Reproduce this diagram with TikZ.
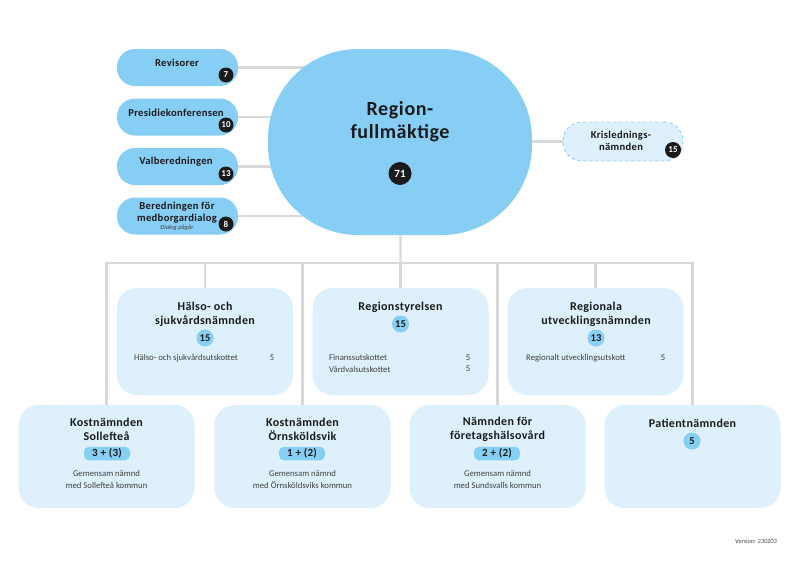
\documentclass[tikz,border=0pt]{standalone}
\usepackage{fontspec}
\setmainfont{Carlito}
\newfontfamily\tfont[LetterSpace=3]{Carlito}
\definecolor{blueA}{HTML}{87CEF5}
\definecolor{blueB}{HTML}{DDF0FC}
\definecolor{lineC}{HTML}{D9D9D9}
\definecolor{badgeC}{HTML}{1A1A1A}
\definecolor{txtC}{HTML}{1A1A1A}
\definecolor{smallC}{HTML}{404040}
\pgfdeclarelayer{bg}
\pgfsetlayers{bg,main}
\begin{document}
\begin{tikzpicture}[x=1pt,y=-1pt,
 conn/.style={draw=lineC, line width=2.2pt},
 pill/.style={rectangle, rounded corners=18pt, fill=blueA, minimum width=121pt, minimum height=37pt, inner sep=0pt},
 bigbox/.style={rectangle, rounded corners=90pt, fill=blueA, minimum width=264pt, minimum height=186pt, inner sep=0pt},
 krisbox/.style={rectangle, rounded corners=19pt, fill=blueB, draw=blueA, dashed, line width=0.9pt, minimum width=120pt, minimum height=39pt, inner sep=0pt},
 lbox/.style={rectangle, rounded corners=20pt, fill=blueB, minimum width=176pt, inner sep=0pt},
 ptitle/.style={font=\tfont\bfseries\fontsize{10.6}{11.5}\selectfont, align=center, text=txtC, inner sep=0pt},
 title/.style={font=\tfont\bfseries\fontsize{12}{13.5}\selectfont, align=center, text=txtC, inner sep=0pt},
 bigtitle/.style={font=\tfont\bfseries\fontsize{20}{23}\selectfont, align=center, text=txtC, inner sep=0pt},
 small/.style={font=\fontsize{8.7}{11.2}\selectfont, text=smallC, inner sep=0pt, align=center},
 tiny/.style={font=\itshape\fontsize{6.3}{7}\selectfont, text=smallC, inner sep=0pt},
 dbadge/.style={circle, fill=badgeC, text=white, font=\bfseries\fontsize{9}{10}\selectfont, minimum size=15pt, inner sep=0pt},
 lbadge/.style={circle, fill=blueA, text=txtC, font=\bfseries\fontsize{10.5}{11}\selectfont, minimum size=17pt, inner sep=0pt},
 tag/.style={rectangle, rounded corners=5pt, fill=blueA, text=txtC, font=\tfont\bfseries\fontsize{11}{12}\selectfont, minimum width=46pt, minimum height=13.5pt, inner sep=0pt}
]
\useasboundingbox (0,0) rectangle (800,565);

% boxes
\path
 (177.5,67.5) node[pill] (rev) {}
 (177.5,117) node[pill] (pres) {}
 (177.5,166.5) node[pill] (valb) {}
 (177.5,216) node[pill] (bered) {}
 (400,142) node[bigbox] (big) {}
 (623,141.5) node[krisbox] (kris) {}
 (205,341.5) node[lbox, minimum height=107pt] (hs) {}
 (400.5,341.5) node[lbox, minimum height=107pt] (rs) {}
 (595.5,341.5) node[lbox, minimum height=107pt] (ru) {}
 (106.5,456.5) node[lbox, minimum height=103pt] (k1) {}
 (302.5,456.5) node[lbox, minimum height=103pt] (k2) {}
 (497.5,456.5) node[lbox, minimum height=103pt] (nf) {}
 (692.5,456.5) node[lbox, minimum height=103pt] (pat) {};

% connectors behind the boxes
\coordinate (bus) at (400.5,263);
\begin{pgfonlayer}{bg}
\draw[conn] (rev.east) -- (rev.east -| big.center);
\draw[conn] (pres.east) -- (pres.east -| big.center);
\draw[conn] (valb.east) -- (valb.east -| big.center);
\draw[conn] (bered.east) -- (bered.east -| big.center);
\draw[conn] (big.center |- kris.west) -- (kris.west);
\draw[conn] (big.center) -- (bus);
\draw[conn, line cap=rect] (k1.north |- bus) -- (pat.north |- bus);
\foreach \n in {hs,rs,ru,k1,k2,nf,pat} { \draw[conn] (\n.north |- bus) -- (\n.north); }
\end{pgfonlayer}

% left pills text
\node[ptitle] (trev) at (177,63) {Revisorer};
\node[dbadge] (brev) at (226,75) {7};
\node[ptitle] (tpres) at (176,113) {Presidiekonferensen};
\node[dbadge] (bpres) at (226,125) {10};
\node[ptitle] (tvalb) at (176,162) {Valberedningen};
\node[dbadge] (bvalb) at (226,174) {13};
\node[ptitle] (tbered) at (177,212.5) {Beredningen för\\medborgardialog};
\node[tiny] (dbered) at (177,228) {Dialog pågår};
\node[dbadge] (bbered) at (226,224) {8};

% big
\node[bigtitle] (tbig) at (400,121.5) {Region-\\fullmäktige};
\node[dbadge, minimum size=23pt, font=\bfseries\fontsize{11}{12}\selectfont] (bbig) at (400,173.5) {71};

% kris
\node[ptitle] (tkris) at (621,141) {Krislednings-\\nämnden};
\node[dbadge, minimum size=16pt] (bkris) at (673,150) {15};

% middle row
\node[title] (ths) at (205,314.5) {Hälso- och\\sjukvårdsnämnden};
\node[lbadge] (bhs) at (205,338) {15};
\node[small, anchor=west] (shs) at (134,358) {Hälso- och sjukvårdsutskottet};
\node[small] (nhs) at (272,358) {5};

\node[title] (trs) at (400.5,307) {Regionstyrelsen};
\node[lbadge] (brs) at (400.5,324) {15};
\node[small, anchor=west] (srs1) at (329,358) {Finanssutskottet};
\node[small] (nrs1) at (468,358) {5};
\node[small, anchor=west] (srs2) at (329,369) {Vårdvalsutskottet};
\node[small] (nrs2) at (468,369) {5};

\node[title] (tru) at (596,314.5) {Regionala\\utvecklingsnämnden};
\node[lbadge] (bru) at (596,338) {13};
\node[small, anchor=west] (sru) at (526,358) {Regionalt utvecklingsutskott};
\node[small] (nru) at (663,358) {5};

% bottom row
\node[title] (tk1) at (106.5,429.5) {Kostnämnden\\Sollefteå};
\node[tag] (gk1) at (107,453.5) {3 + (3)};
\node[small] (sk1) at (106.5,479.5) {Gemensam nämnd\\med Sollefteå kommun};

\node[title] (tk2) at (302.5,429.5) {Kostnämnden\\Örnsköldsvik};
\node[tag] (gk2) at (302,453.5) {1 + (2)};
\node[small] (sk2) at (302.5,479.5) {Gemensam nämnd\\med Örnsköldsviks kommun};

\node[title] (tnf) at (497.5,429.5) {Nämnden för\\företagshälsovård};
\node[tag] (gnf) at (497,453.5) {2 + (2)};
\node[small] (snf) at (497.5,479.5) {Gemensam nämnd\\med Sundsvalls kommun};

\node[title] (tpat) at (692.5,423) {Patientnämnden};
\node[lbadge] (bpat) at (692,441) {5};

\node[tiny] (ver) at (756,541) {Version: 230203};
\end{tikzpicture}
\end{document}
